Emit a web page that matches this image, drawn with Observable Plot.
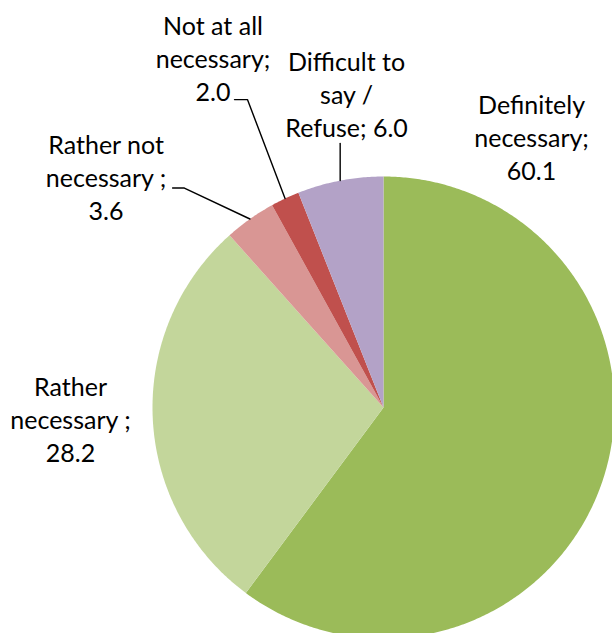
<!DOCTYPE html>
<html><head><meta charset="utf-8">
<script src="https://cdn.jsdelivr.net/npm/d3@7"></script>
<script src="https://cdn.jsdelivr.net/npm/@observablehq/plot@0.6"></script>
<style>html,body{margin:0;padding:0;background:#fff;overflow:hidden}</style>
</head><body><div id="chart"></div>
<script>
// ---- data ----
const categories = ["Definitely necessary", "Rather necessary", "Rather not necessary", "Not at all necessary", "Difficult to say / Refuse"];
const values = [60.1, 28.2, 3.6, 2.0, 6.0];
const labelTexts = ["Definitely\nnecessary;\n60.1", "Rather\nnecessary ;\n28.2", "Rather not\nnecessary ;\n3.6", "Not at all\nnecessary;\n2.0", "Difficult to\nsay /\nRefuse; 6.0"];
const colors = ["#9BBB59", "#C3D69B", "#D99694", "#C0504D", "#B3A2C7"];

// ---- layout (pie units: radius = 1) ----
const labelPos = [[0.641, 0.983], [-1.355, -0.238], [-1.201, 0.812], [-0.738, 1.325], [-0.160, 1.169]];
const leaderBends = [null, null, [[-0.913, 0.95], [-0.862, 0.95]], [[-0.645, 1.333], [-0.589, 1.333]], [[null, 1.143]]];

const total = d3.sum(values);
const slices = [];
const leaders = [];
let acc = 0;
values.forEach((v, i) => {
  const a0 = acc / total * 2 * Math.PI;
  acc += v;
  const a1 = acc / total * 2 * Math.PI;
  const pts = [{name: categories[i], x: 0, y: 0}];
  const n = Math.max(2, Math.ceil((a1 - a0) / (Math.PI / 360)));
  for (let k = 0; k <= n; k++) {
    const a = a0 + (a1 - a0) * k / n;
    pts.push({name: categories[i], x: Math.sin(a), y: Math.cos(a)});
  }
  pts.push({name: categories[i], x: 0, y: 0});
  slices.push(...pts);
  const bends = leaderBends[i];
  if (bends) {
    const am = (a0 + a1) / 2;
    const ex = Math.sin(am), ey = Math.cos(am);
    leaders.push({name: categories[i], x: ex, y: ey});
    bends.slice().reverse().forEach(([bx, by]) => leaders.push({name: categories[i], x: bx == null ? ex : bx, y: by}));
  }
});

const labels = categories.map((c, i) => ({name: c, text: labelTexts[i], x: labelPos[i][0], y: labelPos[i][1]}));

const chart = Plot.plot({
  width: 612,
  height: 633,
  margin: 0,
  style: {background: "#fff", overflow: "hidden"},
  x: {domain: [-1, 1], range: [152, 614], axis: null},
  y: {domain: [-1, 1], range: [638, 176], axis: null},
  color: {domain: categories, range: colors},
  marks: [
    Plot.line(slices, {x: "x", y: "y", z: "name", fill: "name", stroke: "none", curve: "linear"}),
    Plot.line(leaders, {x: "x", y: "y", z: "name", stroke: "#000", strokeWidth: 1.4, curve: "linear"}),
    Plot.text(labels, {x: "x", y: "y", text: "text", lineAnchor: "bottom", lineHeight: 33 / 25, fontSize: 25, fontFamily: "Lato", fill: "#000", textAnchor: "middle"})
  ]
});
document.getElementById("chart").appendChild(chart);
</script>
</body></html>
